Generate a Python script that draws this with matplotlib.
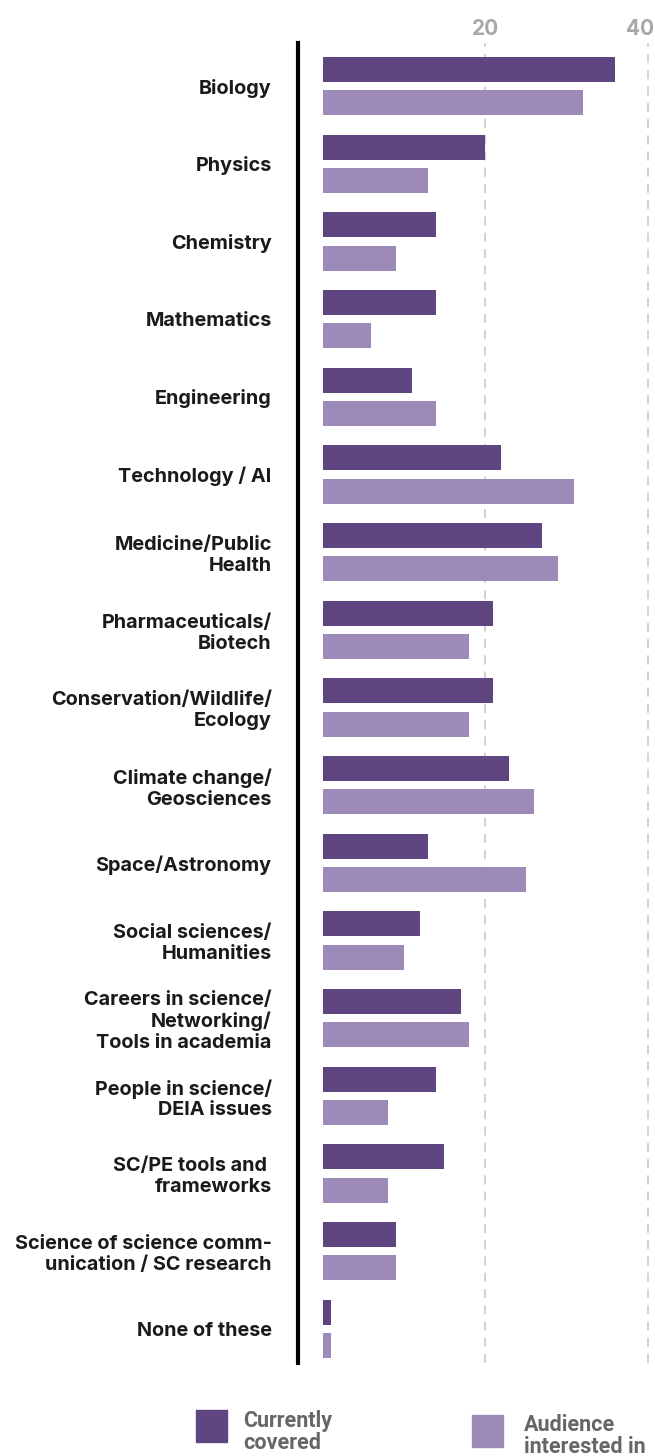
import numpy as np
import matplotlib
matplotlib.use("Agg")
import matplotlib.pyplot as plt
from matplotlib.patches import Rectangle
from matplotlib.transforms import ScaledTranslation

# topics and the share of respondents (%) for each series
topics = [
    "Biology",
    "Physics",
    "Chemistry",
    "Mathematics",
    "Engineering",
    "Technology / AI",
    "Medicine/Public\nHealth",
    "Pharmaceuticals/\nBiotech",
    "Conservation/Wildlife/\nEcology",
    "Climate change/\nGeosciences",
    "Space/Astronomy",
    "Social sciences/\nHumanities",
    "Careers in science/\nNetworking/\nTools in academia",
    "People in science/\nDEIA issues",
    "SC/PE tools and \nframeworks",
    "Science of science comm-\nunication / SC research",
    "None of these",
]
covered = [36, 20, 14, 14, 11, 22, 27, 21, 21, 23, 13, 12, 17, 14, 15, 9, 1]
interested = [32, 13, 9, 6, 14, 31, 29, 18, 18, 26, 25, 10, 18, 8, 8, 9, 1]
xticks = [20, 40]

series_names = ["Currently\ncovered", "Audience\ninterested in"]
dark = "#5f4582"
light = "#9c8ab9"

plt.rcParams["font.family"] = ["Inter", "DejaVu Sans"]

fig = plt.figure(figsize=(6.55, 14.56), dpi=100)
ax = fig.add_axes([0.455, 0.0639, 0.545, 0.9066])

y = np.arange(len(topics))
h = 0.32
ax.barh(y - 0.215, covered, height=h, color=dark, zorder=3)
ax.barh(y + 0.215, interested, height=h, color=light, zorder=3)

ax.set_xlim(-3.02, 40.92)
ax.set_ylim(len(topics) - 1 + 0.44, -0.557)

# dashed guides
for t in xticks:
    ax.axvline(t, color="#cfcfcf", lw=1.3, ls=(0, (5, 4)), zorder=1)

ax.xaxis.tick_top()
ax.set_xticks(xticks)
ax.set_xticklabels([str(t) for t in xticks], color="#a8a8a8",
                   fontsize=15, fontweight="bold")
ax.tick_params(axis="x", length=0, pad=3)
# keep the last tick label inside the figure
last = ax.get_xticklabels()[-1]
last.set_ha("right")
last.set_transform(last.get_transform() + ScaledTranslation(6 / 100, 0, fig.dpi_scale_trans))

ax.set_yticks(y)
ax.set_yticklabels(topics, fontsize=14.3, fontweight="bold",
                   color="#1a1a1a", linespacing=1.2)
ax.tick_params(axis="y", length=0, pad=19)

for side in ["top", "right", "bottom"]:
    ax.spines[side].set_visible(False)
ax.spines["left"].set_linewidth(3)
ax.spines["left"].set_color("black")

# legend drawn by hand at the bottom
fig.patches.append(Rectangle((196 / 655, 1 - 1442 / 1456), 31 / 655, 32 / 1456,
                             transform=fig.transFigure, color=dark))
fig.patches.append(Rectangle((472 / 655, 1 - 1447 / 1456), 31 / 655, 32 / 1456,
                             transform=fig.transFigure, color=light))
fig.text(243 / 655, 1 - 1410 / 1456, series_names[0], ha="left", va="top",
         fontsize=15.5, fontweight="bold", color="#666666",
         family=["Roboto", "DejaVu Sans"], linespacing=1.0)
fig.text(524 / 655, 1 - 1414 / 1456, series_names[1], ha="left", va="top",
         fontsize=15.5, fontweight="bold", color="#666666",
         family=["Roboto", "DejaVu Sans"], linespacing=1.0)

fig.savefig("out.png", dpi=100)
